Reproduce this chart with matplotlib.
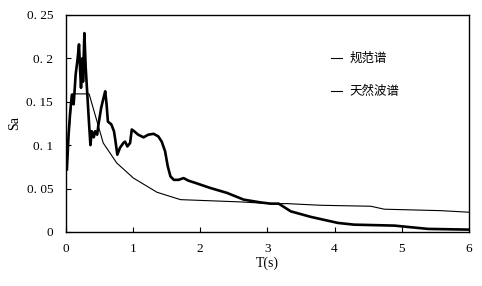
import matplotlib.pyplot as plt
from matplotlib.ticker import FixedLocator

plt.rcParams['font.family'] = ['Liberation Serif', 'Noto Sans CJK SC']

# code spectrum (thin line)
T_code = [0.0, 0.1, 0.35, 0.56, 0.76, 1.01, 1.36, 1.71, 2.6, 3.05, 3.3, 3.8, 4.54, 4.74, 5.59, 6.0]
Sa_code = [0.07, 0.159, 0.159, 0.1025, 0.0795, 0.062, 0.0457, 0.0372, 0.0346, 0.0326, 0.0326, 0.0307,
           0.0296, 0.0262, 0.0245, 0.0227]

# natural wave spectrum (thick line)
T_nat = [0.02, 0.045, 0.07, 0.094, 0.12, 0.134, 0.15, 0.18, 0.20, 0.22, 0.23, 0.25, 0.26, 0.28, 0.30,
         0.33, 0.35, 0.37, 0.39, 0.42, 0.44, 0.47, 0.49, 0.53, 0.57, 0.59, 0.61, 0.63, 0.68, 0.72, 0.74,
         0.77, 0.81, 0.86, 0.885, 0.92, 0.96, 0.985, 1.02, 1.08, 1.16, 1.23, 1.31, 1.38, 1.43, 1.48,
         1.52, 1.56, 1.61, 1.68, 1.755, 1.83, 1.93, 2.15, 2.40, 2.65, 2.90, 3.05, 3.17, 3.35, 3.65,
         4.05, 4.29, 4.89, 5.39, 5.99]
Sa_nat = [0.072, 0.112, 0.139, 0.158, 0.147, 0.162, 0.181, 0.20, 0.216, 0.181, 0.166, 0.20, 0.173, 0.229,
          0.189, 0.150, 0.124, 0.10, 0.116, 0.109, 0.116, 0.112, 0.124, 0.143, 0.156, 0.162, 0.147, 0.127,
          0.124, 0.116, 0.106, 0.089, 0.097, 0.1025, 0.104, 0.0985, 0.1025, 0.118, 0.116, 0.112, 0.109,
          0.112, 0.113, 0.110, 0.104, 0.093, 0.0756, 0.064, 0.060, 0.060, 0.062, 0.059, 0.0565, 0.0507,
          0.045, 0.0372, 0.034, 0.0326, 0.0326, 0.0237, 0.0173, 0.0104, 0.0084, 0.0073, 0.0035, 0.0027]

x_ticks = [0, 1, 2, 3, 4, 5, 6]
y_ticks = [0, 0.05, 0.1, 0.15, 0.2, 0.25]
y_tick_labels = ['0', '0. 05', '0. 1', '0. 15', '0. 2', '0. 25']

fig = plt.figure(figsize=(4.82, 2.86), dpi=100)
ax = fig.add_axes([0.136, 0.189, 0.837, 0.759])

ax.plot(T_code, Sa_code, color='black', linewidth=0.8, label='规范谱')
ax.plot(T_nat, Sa_nat, color='black', linewidth=1.9, label='天然波谱')

ax.set_xlim(0, 6)
ax.set_ylim(0, 0.25)
ax.xaxis.set_major_locator(FixedLocator(x_ticks))
ax.yaxis.set_major_locator(FixedLocator(y_ticks))
ax.set_yticklabels(y_tick_labels)
ax.tick_params(direction='in', length=3.5, width=0.8, labelsize=9.5, pad=9)
ax.tick_params(axis='x', pad=8)
for s in ax.spines.values():
    s.set_linewidth(1.0)

ax.set_xlabel('T(s)', fontsize=10, labelpad=1)
ax.set_ylabel('Sa', fontsize=10, labelpad=4)

leg = ax.legend(loc='upper left', bbox_to_anchor=(0.63, 0.88), frameon=False,
                handlelength=0.9, handletextpad=0.6, labelspacing=1.6,
                prop={'family': 'Noto Sans CJK SC', 'size': 9})
for h in leg.legend_handles:
    h.set_linewidth(0.8)

fig.savefig('out.png', dpi=100)
